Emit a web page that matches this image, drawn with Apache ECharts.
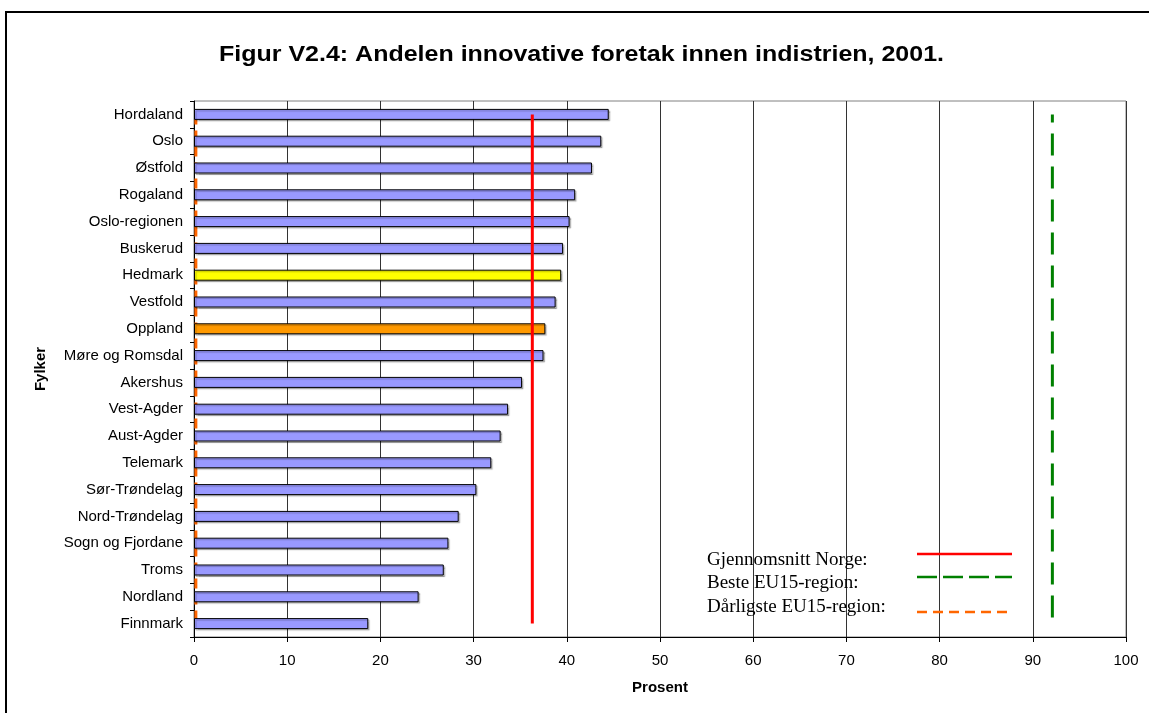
<!DOCTYPE html>
<html>
<head>
<meta charset="utf-8">
<script src="https://cdn.jsdelivr.net/npm/echarts@6/dist/echarts.min.js"></script>
<style>
html,body{margin:0;padding:0;background:#fff;}
#chart{width:1149px;height:713px;}
</style>
</head>
<body>
<div id="chart"></div>
<script>
const categories = ['Hordaland','Oslo','Østfold','Rogaland','Oslo-regionen','Buskerud','Hedmark','Vestfold','Oppland','Møre og Romsdal','Akershus','Vest-Agder','Aust-Agder','Telemark','Sør-Trøndelag','Nord-Trøndelag','Sogn og Fjordane','Troms','Nordland','Finnmark'];
const values = [44.5,43.7,42.7,40.9,40.3,39.6,39.4,38.8,37.7,37.5,35.2,33.7,32.9,31.9,30.3,28.4,27.3,26.8,24.1,18.7];
const xTicks = [0,10,20,30,40,50,60,70,80,90,100];
const norgeAvg = 36.3;
const bestEU = 92.1;
const worstEU = 0.2;
const lineNames = ['Gjennomsnitt Norge:','Beste EU15-region:','Dårligste EU15-region:'];
const titleText = 'Figur V2.4: Andelen innovative foretak innen indistrien, 2001.';

const highlight = { 'Hedmark': '#FFFF00', 'Oppland': '#FF9900' };
const baseColor = '#9999FF';
const lineStyles = [
  {color: '#FF0000', width: 3, type: 'solid'},
  {color: '#008000', width: 3, type: [22, 11], dashOffset: 14},
  {color: '#FF6600', width: 3, type: [10, 6]}
];
const legendDash = [null, [20, 6], [10, 6]];

const first = categories[0], last = categories[categories.length - 1];
const vline = v => [[v, first], [v, last]];

// legend drawn as text + line samples (text on the left, sample on the right)
const legendTextY = [560, 583, 607];
const legendLineY = [554, 577, 612];
const legendGraphics = [];
lineNames.forEach((n, i) => {
  legendGraphics.push({
    type: 'text', silent: true, z: 100, x: 707, y: legendTextY[i],
    style: {text: n, font: '19px "Liberation Serif", "Times New Roman", serif', fill: '#000', textVerticalAlign: 'middle', textAlign: 'left'}
  });
  legendGraphics.push({
    type: 'line', silent: true, z: 100,
    shape: {x1: 917, y1: legendLineY[i], x2: 1012, y2: legendLineY[i]},
    style: {stroke: lineStyles[i].color, lineWidth: 2.5, lineDash: legendDash[i]}
  });
});

const titleGraphic = {
  type: 'text', silent: true, z: 100, x: 581.5, y: 55, scaleX: 1.136, scaleY: 1,
  style: {text: titleText, font: 'bold 22px "Liberation Sans", Arial, sans-serif', fill: '#000', textAlign: 'center', textVerticalAlign: 'middle'}
};

const chart = echarts.init(document.getElementById('chart'), null, {renderer: 'canvas'});
chart.setOption({
  animation: false,
  backgroundColor: '#fff',
  textStyle: {fontFamily: 'Liberation Sans, Arial, sans-serif'},
  graphic: [{
    type: 'rect', silent: true, z: -10,
    shape: {x: 6, y: 12, width: 1300, height: 900},
    style: {fill: 'none', stroke: '#000', lineWidth: 2}
  }, titleGraphic].concat(legendGraphics),
  grid: {left: 194, right: 23, top: 101, bottom: 76, show: true, borderColor: '#808080', borderWidth: 1},
  xAxis: {
    type: 'value', min: 0, max: 100, interval: 10,
    name: 'Prosent', nameLocation: 'middle', nameGap: 43,
    nameTextStyle: {fontSize: 15, fontWeight: 'bold', color: '#000'},
    axisLine: {show: true, lineStyle: {color: '#000'}},
    axisTick: {show: true, length: 5, lineStyle: {color: '#000'}},
    axisLabel: {fontSize: 15, color: '#000', margin: 16, formatter: v => xTicks.includes(v) ? String(v) : ''},
    splitLine: {show: true, lineStyle: {color: '#333', width: 1}}
  },
  yAxis: {
    type: 'category', data: categories, inverse: true,
    name: 'Fylker', nameLocation: 'middle', nameGap: 146, nameRotate: 90,
    nameTextStyle: {fontSize: 15, fontWeight: 'bold', color: '#000'},
    axisLine: {show: true, lineStyle: {color: '#000'}},
    axisTick: {show: true, length: 4, lineStyle: {color: '#000'}},
    axisLabel: {fontSize: 15, color: '#000', margin: 11}
  },
  series: [
    {
      name: lineNames[2], type: 'line', data: vline(worstEU), symbol: 'none', z: 1,
      lineStyle: lineStyles[2]
    },
    {
      name: 'Andel', type: 'bar', barWidth: 11, z: 2,
      data: categories.map((c, i) => ({
        value: values[i],
        itemStyle: {color: highlight[c] || baseColor}
      })),
      itemStyle: {borderColor: '#000', borderWidth: 1, shadowColor: 'rgba(0,0,0,0.25)', shadowOffsetX: 1.5, shadowOffsetY: 1.5, shadowBlur: 1}
    },
    {
      name: lineNames[0], type: 'line', data: vline(norgeAvg), symbol: 'none', z: 3,
      lineStyle: lineStyles[0]
    },
    {
      name: lineNames[1], type: 'line', data: vline(bestEU), symbol: 'none', z: 3,
      lineStyle: lineStyles[1]
    }
  ]
});
</script>
</body>
</html>
